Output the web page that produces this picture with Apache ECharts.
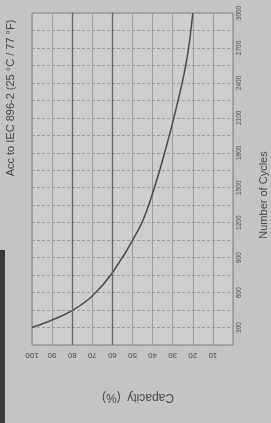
<!DOCTYPE html>
<html>
<head>
<meta charset="utf-8">
<title>Cycle life</title>
<script src="https://cdn.jsdelivr.net/npm/echarts@6/dist/echarts.min.js"></script>
<style>
  html, body { margin: 0; padding: 0; background: #c4c4c4; }
  #main { width: 271px; height: 423px; }
</style>
</head>
<body>
<div id="main"></div>
<script>
// curve: capacity (%) vs number of cycles
var capacity = [100, 90, 80, 70, 60, 47, 41, 34, 28, 23, 20];
var cycles = [300, 365, 445, 570, 770, 1140, 1400, 1800, 2200, 2600, 3000];
// heavier reference lines on the capacity grid
var refLines = [80, 60];

var chart = echarts.init(document.getElementById('main'));

var pts = [];
for (var i = 0; i < capacity.length; i++) {
    pts.push([capacity[i], cycles[i]]);
}

var txt = '#4a4a4a';
var font = 'Liberation Sans';

option = {
    backgroundColor: '#c4c4c4',
    animation: false,
    textStyle: { fontFamily: font },
    grid: {
        left: 32, right: 38, top: 13, bottom: 78,
        show: true,
        backgroundColor: '#cecece',
        borderColor: '#808080',
        borderWidth: 1
    },
    xAxis: {
        type: 'value',
        min: 0, max: 100, interval: 10,
        inverse: true,
        position: 'bottom',
        axisLine: { show: false },
        axisTick: { show: false },
        axisLabel: {
            rotate: 180,
            color: txt,
            fontSize: 8,
            margin: 6,
            formatter: function (v) { return v === 0 ? '' : v; }
        },
        splitLine: { lineStyle: { color: '#9a9a9a', width: 1 } }
    },
    yAxis: {
        type: 'value',
        min: 150, max: 3000, interval: 150,
        position: 'right',
        axisLine: { show: false },
        axisTick: { show: false },
        axisLabel: {
            rotate: 90,
            color: txt,
            fontSize: 6.5,
            margin: 3,
            formatter: function (v) { return v % 300 === 0 ? v : ''; }
        },
        splitLine: { lineStyle: { color: '#9a9a9a', width: 1, type: [3, 2] } }
    },
    graphic: [
        {
            type: 'text', x: 11, y: 98, rotation: Math.PI / 2,
            style: {
                text: 'Acc to IEC 896-2 (25 °C / 77 °F)',
                fill: '#444', font: '11px ' + font,
                align: 'center', verticalAlign: 'middle'
            }
        },
        {
            type: 'text', x: 264, y: 195, rotation: Math.PI / 2,
            style: {
                text: 'Number of Cycles',
                fill: '#4a4a4a', font: '11px ' + font,
                align: 'center', verticalAlign: 'middle'
            }
        },
        {
            type: 'text', x: 138, y: 397, rotation: Math.PI,
            style: {
                text: 'Capacity  (%)',
                fill: '#4a4a4a', font: '12px ' + font,
                align: 'center', verticalAlign: 'middle'
            }
        },
        {
            type: 'rect', shape: { x: 0, y: 250, width: 5, height: 173 },
            style: { fill: '#3a3a3a' }
        }
    ],
    series: [{
        type: 'line',
        data: pts,
        smooth: 0.4,
        symbol: 'none',
        lineStyle: { color: '#4a4a4a', width: 1.5 },
        markLine: {
            silent: true,
            symbol: 'none',
            label: { show: false },
            lineStyle: { color: '#666', width: 1.3, type: 'solid' },
            data: refLines.map(function (v) { return { xAxis: v }; })
        }
    }]
};

chart.setOption(option);
</script>
</body>
</html>
